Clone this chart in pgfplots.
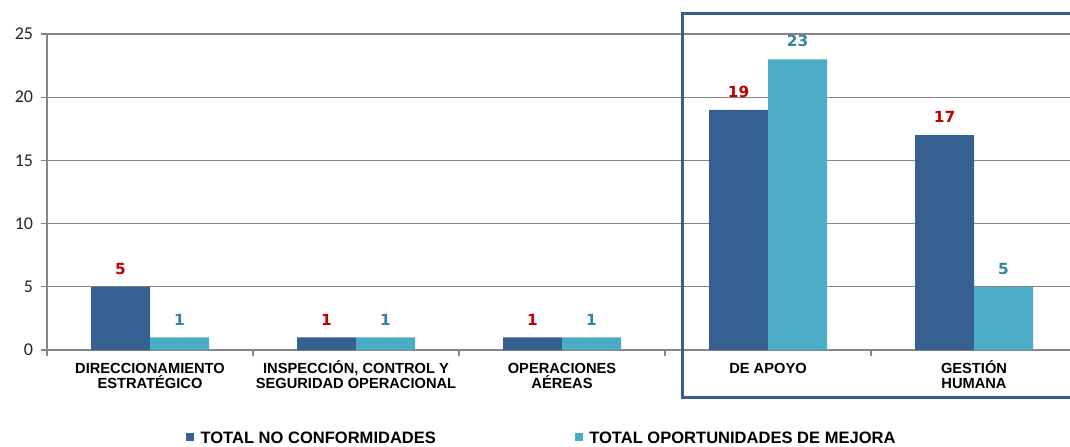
\documentclass[border=0pt]{standalone}
\usepackage{fontspec}
\setmainfont{Liberation Sans}
\newfontfamily\dejavu{DejaVu Sans}
\newfontfamily\carlito{Carlito}
\usepackage{pgfplots}
\pgfplotsset{compat=1.18}
\definecolor{bardark}{RGB}{55,96,146}
\definecolor{barlight}{RGB}{75,172,198}
\definecolor{lblred}{RGB}{192,0,0}
\definecolor{lblteal}{RGB}{49,133,156}
\definecolor{gridgray}{RGB}{134,134,134}
\definecolor{boxblue}{RGB}{59,94,140}
\begin{document}
\begin{tikzpicture}
\path[use as bounding box] (-35.25pt,-72pt) rectangle (767.25pt,262.5pt);
\begin{axis}[
  at={(0pt,0pt)}, anchor=south west,
  scale only axis, width=767.25pt, height=237pt,
  xmin=-0.5, xmax=4.466, ymin=0, ymax=25,
  clip=false,
  axis lines=left,
  axis line style={-, draw=gridgray, line width=1pt},
  ytick={0,5,...,25},
  ymajorgrids, major grid style={draw=gridgray, line width=1pt},
  tick align=outside, major tick length=4.5pt,
  tick style={draw=gridgray, line width=1pt},
  /pgf/number format/assume math mode=true,
  yticklabel style={font=\carlito\fontsize{13.5}{15}\selectfont, text=black!85, inner sep=0pt, anchor=east, xshift=-5.75pt},
  xtick={-0.5,0.5,1.5,2.5,3.5}, xticklabels={},
  extra x ticks={0,1,2,3,4},
  extra x tick labels={{\rule{0pt}{11pt}DIRECCIONAMIENTO\\ESTRATÉGICO},{\rule{0pt}{11pt}INSPECCIÓN, CONTROL Y\\SEGURIDAD OPERACIONAL},{\rule{0pt}{11pt}OPERACIONES\\AÉREAS},{\rule{0pt}{11pt}DE APOYO},{\rule{0pt}{11pt}GESTIÓN\\HUMANA}},
  extra x tick style={major tick length=0pt, xticklabel style={font=\bfseries\fontsize{11}{11.5}\selectfont, align=center, inner sep=0pt, anchor=north, yshift=-6.25pt, text=black}},
  ybar=0pt, bar width=44.25pt,
  nodes near coords,
  every node near coord/.append style={font=\dejavu\bfseries\fontsize{11.5}{13}\selectfont, anchor=south, inner sep=0pt, yshift=9pt},
  legend style={at={(0.4839,-0.2816)}, anchor=center, draw=none, fill=none, legend columns=2, font=\bfseries\fontsize{12.4}{14}\selectfont, /tikz/every even column/.append style={column sep=102pt}, inner sep=0pt},
  legend image code/.code={\fill[#1] (0pt,-1.5pt) rectangle (6pt,4.5pt); \path (0pt,0pt) -- (9pt,0pt);},
]
\addplot[fill=bardark, draw=none, every node near coord/.append style={text=lblred}] coordinates {(0,5) (1,1) (2,1) (3,19) (4,17)};
\addplot[fill=barlight, draw=none, every node near coord/.append style={text=lblteal}] coordinates {(0,1) (1,1) (2,1) (3,23) (4,5)};
\legend{TOTAL NO CONFORMIDADES, TOTAL OPORTUNIDADES DE MEJORA}
\end{axis}
\draw[boxblue, line width=2.25pt] (790pt,252pt) -- (476.25pt,252pt) -- (476.25pt,-35.6pt) -- (790pt,-35.6pt);
\end{tikzpicture}
\end{document}
